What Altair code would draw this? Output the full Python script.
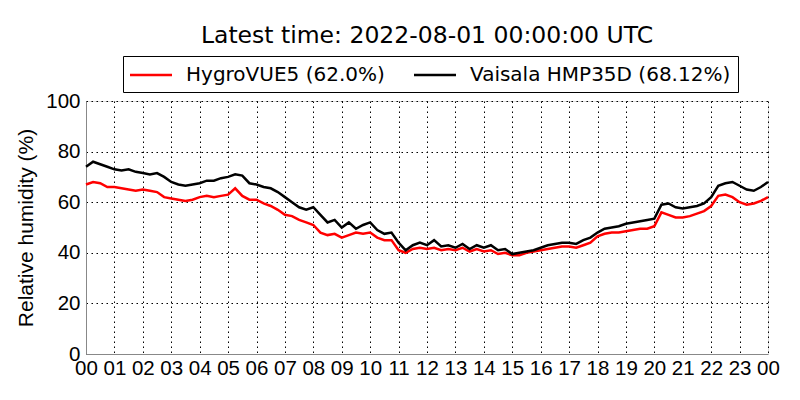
import altair as alt
import pandas as pd

hours = [i * 0.25 for i in range(97)]

black = [74, 76, 75, 74,
         73, 72.5, 73, 72,
         71.5, 71, 71.5, 70,
         68, 67, 66.5, 67,
         67.5, 68.5, 68.5, 69.5,
         70, 71, 70.5, 67.5,
         67, 66, 65.5, 64,
         62, 60, 58, 57,
         58, 55, 52, 53,
         50, 52, 49.5, 51,
         52, 49, 47.5, 48,
         44, 41, 43, 44,
         43, 45, 42.5, 43,
         42, 43.5, 41.5, 43,
         42, 43, 41, 41.5,
         39.5, 40, 40.5, 41,
         42, 43, 43.5, 44,
         44, 43.5, 45, 46,
         48, 49.5, 50, 50.5,
         51.5, 52, 52.5, 53,
         53.5, 59, 59.5, 58,
         57.5, 58, 58.5, 59.5,
         62, 66.5, 67.5, 68,
         66.5, 65, 64.5, 66,
         68]

red = [67, 68, 67.5, 66,
       66, 65.5, 65, 64.5,
       65, 64.5, 64, 62,
       61.5, 61, 60.5, 61,
       62, 62.5, 62, 62.5,
       63, 65.5, 62.5, 61,
       61, 59.5, 58.5, 57,
       55, 54.5, 53, 52,
       51, 48, 47, 47.5,
       46, 47, 48, 47.5,
       48, 46, 45, 45,
       41, 40, 41.5, 42,
       41.5, 42, 41, 41.5,
       41, 42, 40.5, 41.5,
       40.5, 41, 39.5, 40,
       39, 39, 40, 40.5,
       41, 41.5, 42, 42.5,
       42.5, 42, 43, 44,
       46.5, 47.5, 48, 48,
       48.5, 49, 49.5, 49.5,
       50.5, 56, 55, 54,
       54, 54.5, 55.5, 56.5,
       58.5, 62.5, 63, 62,
       60, 59, 59.5, 60.5,
       62]

series_names = ["HygroVUE5 (62.0%)", "Vaisala HMP35D (68.12%)"]
series_colors = ["#ff0000", "#000000"]
hour_ticks = list(range(25))

df = pd.concat([
    pd.DataFrame({"hour": hours, "rh": red, "sensor": series_names[0]}),
    pd.DataFrame({"hour": hours, "rh": black, "sensor": series_names[1]}),
])

font = "DejaVu Sans"
grid_kw = dict(grid=True, gridColor="black", gridDash=[1.5, 3.5], gridWidth=1, gridOpacity=1)

chart = alt.Chart(df).mark_line(strokeWidth=2.5).encode(
    x=alt.X("hour:Q",
            scale=alt.Scale(domain=[0, 24], nice=False, zero=False),
            axis=alt.Axis(values=hour_ticks, title=None, ticks=False,
                          labelExpr="(datum.value % 24) < 10 ? '0' + (datum.value % 24) : '' + (datum.value % 24)",
                          labelFontSize=20.5, labelPadding=4, labelFlush=False, **grid_kw)),
    y=alt.Y("rh:Q",
            scale=alt.Scale(domain=[0, 100], nice=False),
            axis=alt.Axis(values=[0, 20, 40, 60, 80, 100], title="Relative humidity (%)",
                          ticks=False, labelFontSize=20.5, labelPadding=6,
                          titleFontSize=21, titleFontWeight="normal", titlePadding=9,
                          **grid_kw)),
    color=alt.Color("sensor:N",
                    scale=alt.Scale(domain=series_names, range=series_colors),
                    legend=alt.Legend(title=None, orient="none", legendX=37, legendY=-45,
                                      direction="horizontal", symbolType="M-2,0H2",
                                      symbolSize=441, symbolStrokeWidth=2.5,
                                      labelFontSize=20, labelFont=font, labelLimit=0,
                                      columnPadding=24, labelColor="black",
                                      strokeColor="black", padding=7, symbolOffset=9,
                                      labelOffset=23)),
).properties(
    width=682,
    height=253,
    title=alt.TitleParams("Latest time: 2022-08-01 00:00:00 UTC", fontSize=23.5,
                          fontWeight="normal", font=font, offset=8, anchor="middle",
                          color="black"),
    autosize=alt.AutoSizeParams(type="none"),
    padding={"left": 78, "top": 93, "right": 24, "bottom": 40},
).configure_view(
    stroke="black", strokeWidth=1.3
).configure_axis(
    domain=False, labelFont=font, titleFont=font, labelColor="black", titleColor="black"
).configure(background="white")

chart.save("out.html", embed_options={"renderer": "svg", "actions": False})
